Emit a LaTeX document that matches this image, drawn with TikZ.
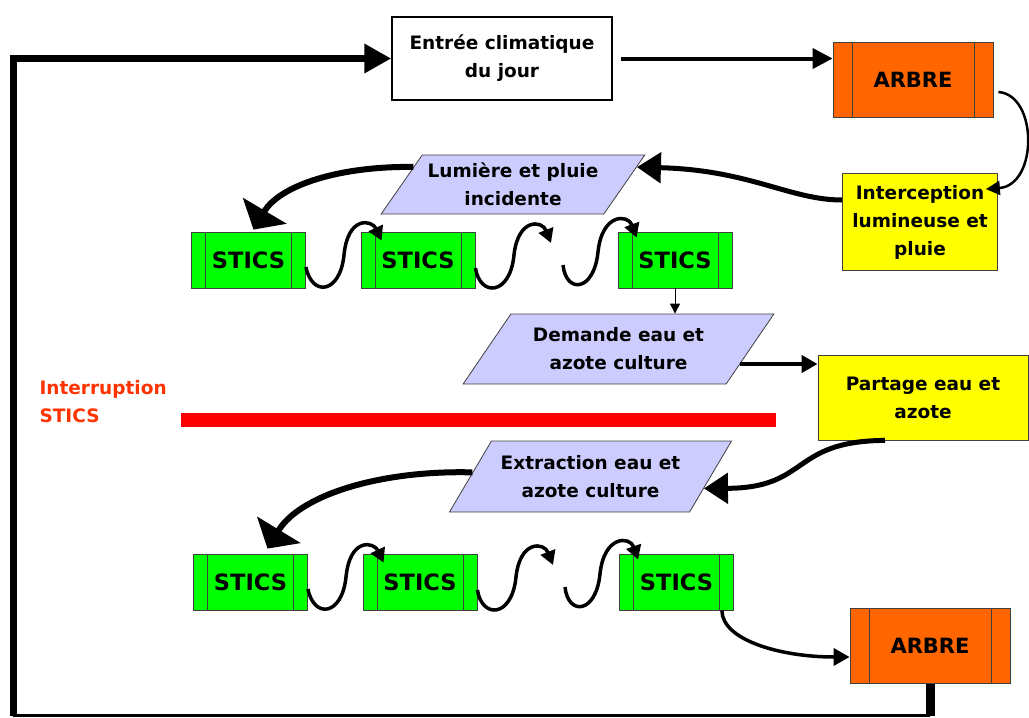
\documentclass[tikz,border=0pt]{standalone}
\usepackage{fontspec}
\setmainfont{DejaVu Sans}
\usetikzlibrary{arrows.meta,shapes.geometric}
\definecolor{stgreen}{HTML}{00FF00}
\definecolor{arorange}{HTML}{FF6600}
\definecolor{noteyel}{HTML}{FFFF00}
\definecolor{paralav}{HTML}{CCCCFF}
\definecolor{cutred}{HTML}{FF0000}
\definecolor{cuttext}{HTML}{FF3300}
\begin{document}
\begin{tikzpicture}[x=1pt, y=-1pt, font=\bfseries\fontsize{18.5}{28}\selectfont,
      box/.style={draw=black!75, line width=0.8pt, align=center, inner sep=2pt},
      proc/.style={box, path picture={
          \draw[line width=0.7pt] ([xshift=#1]path picture bounding box.north west) -- ([xshift=#1]path picture bounding box.south west);
          \draw[line width=0.7pt] ([xshift=-#1]path picture bounding box.north east) -- ([xshift=-#1]path picture bounding box.south east);}},
      stics/.style={proc=14pt, fill=stgreen, minimum width=114pt, minimum height=56pt, font=\bfseries\fontsize{22.5}{24}\selectfont},
      arbre/.style={proc=19pt, fill=arorange, minimum width=160pt, minimum height=75pt, font=\bfseries\fontsize{21}{24}\selectfont},
      note/.style={box, fill=noteyel},
      para/.style={box, fill=paralav, trapezium, trapezium left angle=50, trapezium right angle=130, trapezium stretches=true},
      fat/.style={line width=5pt, -{Triangle[length=24pt,width=30pt]}},
      wide/.style={line width=6pt, -{Triangle[length=22pt,width=50pt]}},
      curl/.style={line width=3.5pt, -{Triangle[length=14pt,width=15pt]}},
      link/.style={line width=3.5pt, -{Triangle[length=16pt,width=17pt]}}]
    \useasboundingbox (0,0) rectangle (1029,718);

    % top of the day
    \node[box, draw=black, line width=1.5pt, minimum width=220pt, minimum height=83pt] (entree) at (502,58.5) {Entrée climatique\\du jour};
    \node[arbre] (arbreA) at (913,80) {ARBRE};
    \node[note, minimum width=155pt, minimum height=97pt] (inter) at (920,222) {Interception\\lumineuse et\\pluie};
    \node[para, minimum width=264pt, minimum height=59pt] (lum) at (513,184.5) {Lumière et pluie\\incidente};

    % first STICS run
    \node[stics] (s1) at (248.5,260) {STICS};
    \node[stics] (s2) at (418,260) {STICS};
    \node[stics] (s3) at (675,260) {STICS};
    \coordinate (g1) at (551,243);
    \coordinate (g2) at (563,265);

    \node[para, minimum width=311pt, minimum height=70pt] (dem) at (618.5,349) {Demande eau et\\azote culture};
    \node[note, minimum width=210pt, minimum height=85pt] (part) at (923,397.5) {Partage eau et\\azote};

    % interruption
    \node[align=left, text=cuttext, anchor=west] (intr) at (36,402) {Interruption\\STICS};
    \draw[line width=14pt, cutred] (181,420) -- (776,420);

    \node[para, minimum width=283pt, minimum height=71pt] (ext) at (590.5,476.5) {Extraction eau et\\azote culture};

    % second STICS run
    \node[stics] (t1) at (250.5,582) {STICS};
    \node[stics] (t2) at (420,582) {STICS};
    \node[stics] (t3) at (676.5,582) {STICS};
    \coordinate (g3) at (553,565);
    \coordinate (g4) at (565,587);
    \node[arbre] (arbreB) at (930,646) {ARBRE};

    % loop back to the next day
    \coordinate (cbr) at (930,715.5);
    \coordinate (cbl) at (13,715.5);
    \coordinate (ctl) at (13,58.5);
    \draw[line width=9pt] (arbreB.south) -- (cbr);
    \draw[line width=3pt] (cbr) -- (cbl);
    \draw[line width=7pt, -{Triangle[length=27pt,width=28pt]}] (cbl) -- (ctl) -- (entree.west);

    \draw[line width=4pt, -{Triangle[length=20pt,width=20pt]}, shorten <=8pt] (entree.east) -- (entree.east -| arbreA.west);
    \draw[line width=2.5pt, -{Triangle[length=14pt,width=14pt]}] ([xshift=5pt,yshift=-12pt]arbreA.east) .. controls (1038,95) and (1038,185) .. ([xshift=-12pt,yshift=-16pt]inter.north east);
    \draw[fat] ([yshift=22pt]inter.west) .. controls (790,200) and (750,170) .. (lum.8);
    \draw[wide] (lum.170) .. controls (340,166) and (280,185) .. ([xshift=5pt,yshift=2pt]s1.north);

    \draw[curl] ([yshift=-7pt]s1.east) .. controls (312,297) and (340,294) .. (344,255) .. controls (348,215) and (372,220) .. ([xshift=21pt,yshift=-9pt]s2.north west);
    \draw[curl] ([yshift=-8pt]s2.east) .. controls (480,297) and (510,296) .. (514,255) .. controls (518,218) and (542,220) .. (g1);
    \draw[curl] (g2) .. controls (566,294) and (594,292) .. (598,252) .. controls (602,213) and (628,214) .. ([xshift=19pt,yshift=-6pt]s3.north west);

    \draw[line width=1pt, -{Triangle[length=10pt,width=10pt]}] (s3.south) -- (s3.south |- dem.north);
    \coordinate (dout) at ([xshift=-10pt,yshift=-15pt]dem.east);
    \draw[line width=4pt, -{Triangle[length=16pt,width=17pt]}] (dout) -- (dout -| part.west);
    \draw[fat] ([xshift=-38pt]part.south) .. controls (790,441) and (810,488) .. (ext.-6);
    \draw[wide] (ext.178) .. controls (380,470) and (300,495) .. ([xshift=17pt,yshift=5pt]t1.north);

    \draw[curl] ([yshift=-7pt]t1.east) .. controls (314,619) and (342,616) .. (346,577) .. controls (350,537) and (374,542) .. ([xshift=21pt,yshift=-9pt]t2.north west);
    \draw[curl] ([yshift=-8pt]t2.east) .. controls (482,619) and (512,618) .. (516,577) .. controls (520,540) and (544,542) .. (g3);
    \draw[curl] (g4) .. controls (568,616) and (596,614) .. (600,574) .. controls (604,535) and (630,536) .. ([xshift=19pt,yshift=-6pt]t3.north west);

    \draw[link] ([xshift=-12pt]t3.south east) .. controls (722,640) and (780,657) .. ([yshift=-11pt]arbreB.west);
  \end{tikzpicture}
\end{document}
